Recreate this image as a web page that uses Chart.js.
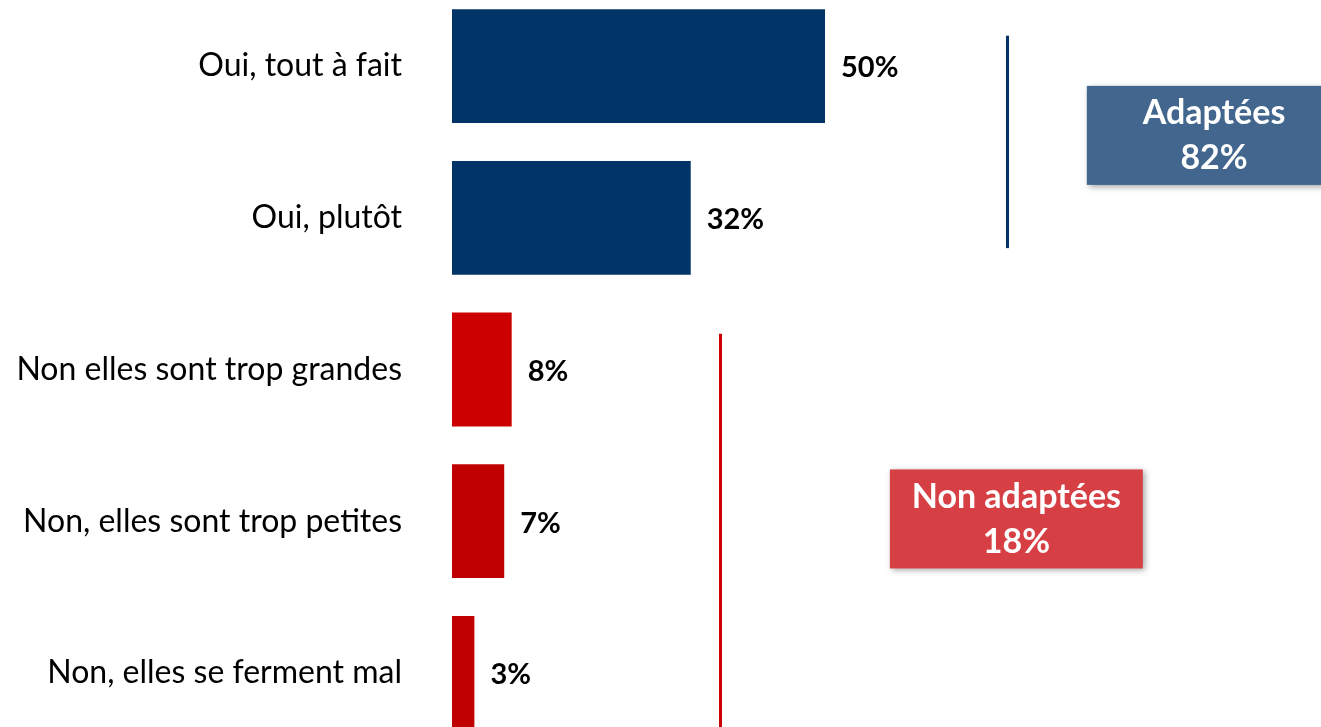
<!DOCTYPE html>
<html>
<head>
<meta charset="utf-8">
<script src="https://cdn.jsdelivr.net/npm/chart.js@4.4.0/dist/chart.umd.min.js"></script>
<style>
html,body{margin:0;padding:0;background:#fff;overflow:hidden;width:1321px;height:727px;}
#wrap{position:absolute;left:0;top:-79px;width:1321px;height:897px;}
</style>
</head>
<body>
<div id="wrap"><canvas id="c"></canvas></div>
<script>
const categories = ["Oui, tout à fait", "Oui, plutôt", "Non elles sont trop grandes", "Non, elles sont trop petites", "Non, elles se ferment mal"];
const values = [50, 32, 8, 7, 3];
const groupLabels = ["Adaptées", "Non adaptées"];
const groupTotals = [82, 18];

const barColors = ["#003366", "#003366", "#CC0000", "#C00000", "#C00000"];
const FONT = "Lato";

const valueLabels = {
  id: "valueLabels",
  afterDatasetsDraw(chart) {
    const ctx = chart.ctx;
    const meta = chart.getDatasetMeta(0);
    ctx.save();
    ctx.font = "bold 29px " + FONT;
    ctx.fillStyle = "#000";
    ctx.textAlign = "left";
    ctx.textBaseline = "middle";
    meta.data.forEach((bar, i) => {
      ctx.fillText(values[i] + "%", bar.x + 16, bar.y + 2);
    });
    ctx.restore();
  }
};

const groups = {
  id: "groups",
  afterDatasetsDraw(chart) {
    const ctx = chart.ctx;
    const xs = chart.scales.x, ys = chart.scales.y;
    ctx.save();
    const lines = [
      {x: 74.4, y0: -0.2, y1: 1.2, color: "#003366"},
      {x: 35.9, y0: 1.765, y1: 4.6, color: "#CC0000"}
    ];
    lines.forEach(l => {
      ctx.strokeStyle = l.color;
      ctx.lineWidth = 3;
      ctx.beginPath();
      const px = Math.round(xs.getPixelForValue(l.x)) + 0.5;
      ctx.moveTo(px, ys.getPixelForValue(l.y0));
      ctx.lineTo(px, ys.getPixelForValue(l.y1));
      ctx.stroke();
    });
    const boxes = [
      {x0: 85.1, x1: 119.2, yc: 0.457, color: "#42668D", label: groupLabels[0], total: groupTotals[0]},
      {x0: 58.7, x1: 92.6, yc: 2.985, color: "#D64045", label: groupLabels[1], total: groupTotals[1]}
    ];
    boxes.forEach(b => {
      const l = xs.getPixelForValue(b.x0), r = xs.getPixelForValue(b.x1);
      const cy = ys.getPixelForValue(b.yc);
      const h = 99;
      ctx.save();
      ctx.shadowColor = "rgba(0,0,0,0.35)";
      ctx.shadowBlur = 6;
      ctx.shadowOffsetX = 2;
      ctx.shadowOffsetY = 2;
      ctx.fillStyle = b.color;
      ctx.fillRect(l, cy - h / 2, r - l, h);
      ctx.restore();
      ctx.fillStyle = "#fff";
      ctx.font = "bold 34px " + FONT;
      ctx.textAlign = "center";
      ctx.textBaseline = "middle";
      const cx = (l + r) / 2;
      ctx.fillText(b.label, cx, cy - 22);
      ctx.fillText(b.total + "%", cx, cy + 23);
    });
    ctx.restore();
  }
};

new Chart(document.getElementById("c"), {
  type: "bar",
  data: {
    labels: categories,
    datasets: [{
      data: values,
      backgroundColor: barColors,
      borderWidth: 0,
      categoryPercentage: 1,
      barPercentage: 0.75
    }]
  },
  options: {
    indexAxis: "y",
    responsive: true,
    maintainAspectRatio: false,
    animation: false,
    layout: {padding: {top: 0, bottom: 0, left: 0, right: 123}},
    plugins: {legend: {display: false}, tooltip: {enabled: false}},
    scales: {
      x: {
        display: false,
        min: 0,
        max: 100
      },
      y: {
        grid: {display: false, drawTicks: false},
        border: {display: false},
        ticks: {
          color: "#000",
          font: {family: FONT, size: 32},
          padding: 50
        },
        afterFit(scale) { scale.width = 452; }
      }
    }
  },
  plugins: [valueLabels, groups]
});
</script>
</body>
</html>
